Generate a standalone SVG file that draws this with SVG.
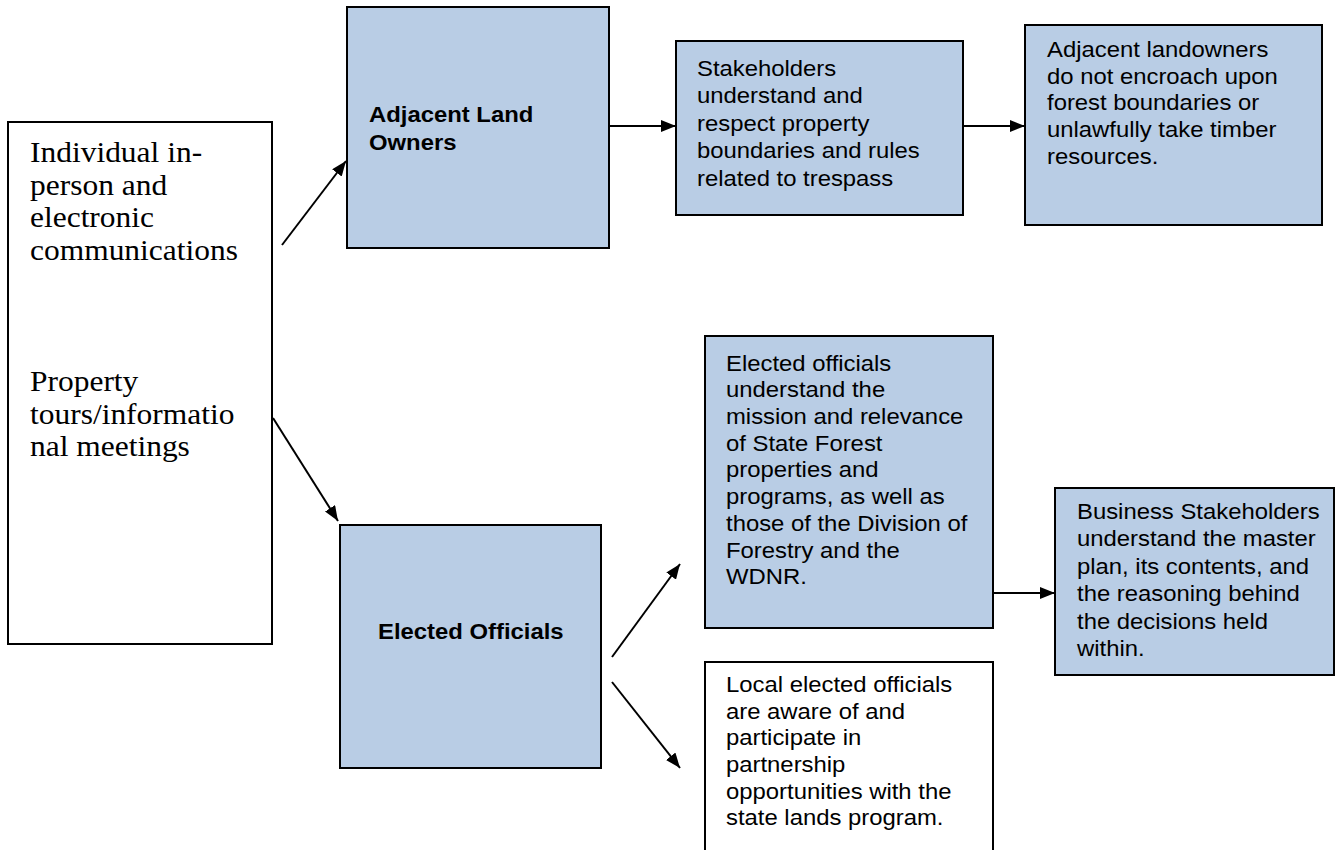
<svg xmlns="http://www.w3.org/2000/svg" width="1338" height="850" viewBox="0 0 1338 850">
  <style>
    .box { fill: #B9CDE5; stroke: #000; stroke-width: 2; }
    .plain { fill: #FFFFFF; stroke: #000; stroke-width: 2; }
    .sans { font-family: "Liberation Sans", Arial, sans-serif; font-size: 22px; fill: #000; }
    .bold { font-weight: bold; }
    .serif { font-family: "Liberation Serif", "Times New Roman", serif; font-size: 29px; fill: #000; }
    .link { stroke: #000; stroke-width: 2; fill: none; marker-end: url(#arrow); }
  </style>
  <defs>
    <marker id="arrow" markerUnits="userSpaceOnUse" markerWidth="16" markerHeight="12" refX="15" refY="6" orient="auto">
      <path d="M0,0 L15,6 L0,12 z" fill="#000"/>
    </marker>
  </defs>
  <rect width="1338" height="850" fill="#FFFFFF"/>

  <!-- Communication methods -->
  <g id="methods">
    <rect class="plain" x="8" y="122" width="264" height="522"/>
    <text class="serif" transform="translate(30,162) scale(1.085,1)">
      <tspan x="0" y="0">Individual in-</tspan>
      <tspan x="0" y="32.7">person and</tspan>
      <tspan x="0" y="65.4">electronic</tspan>
      <tspan x="0" y="98.1">communications</tspan>
      <tspan x="0" y="229">Property</tspan>
      <tspan x="0" y="261.7">tours/informatio</tspan>
      <tspan x="0" y="294.4">nal meetings</tspan>
    </text>
  </g>

  <!-- Audience: adjacent land owners -->
  <g id="adjacent-owners">
    <rect class="box" x="347" y="7" width="262" height="241"/>
    <text class="sans bold" transform="translate(369,122) scale(1.085,1)">
      <tspan x="0" y="0">Adjacent Land</tspan>
      <tspan x="0" y="28">Owners</tspan>
    </text>
  </g>

  <g id="stakeholders-respect">
    <rect class="box" x="676" y="41" width="287" height="174"/>
    <text class="sans" transform="translate(697,76) scale(1.085,1)">
      <tspan x="0" y="0">Stakeholders</tspan>
      <tspan x="0" y="27.5">understand and</tspan>
      <tspan x="0" y="55">respect property</tspan>
      <tspan x="0" y="82.5">boundaries and rules</tspan>
      <tspan x="0" y="110">related to trespass</tspan>
    </text>
  </g>

  <g id="no-encroach">
    <rect class="box" x="1025" y="25" width="297" height="200"/>
    <text class="sans" transform="translate(1047,57) scale(1.085,1)">
      <tspan x="0" y="0">Adjacent landowners</tspan>
      <tspan x="0" y="26.7">do not encroach upon</tspan>
      <tspan x="0" y="53.4">forest boundaries or</tspan>
      <tspan x="0" y="80.1">unlawfully take timber</tspan>
      <tspan x="0" y="106.8">resources.</tspan>
    </text>
  </g>

  <!-- Audience: elected officials -->
  <g id="elected-officials">
    <rect class="box" x="340" y="525" width="261" height="243"/>
    <text class="sans bold" transform="translate(378,639) scale(1.085,1)">Elected Officials</text>
  </g>

  <g id="officials-understand">
    <rect class="box" x="705" y="336" width="288" height="292"/>
    <text class="sans" transform="translate(726,370.7) scale(1.085,1)">
      <tspan x="0" y="0">Elected officials</tspan>
      <tspan x="0" y="26.7">understand the</tspan>
      <tspan x="0" y="53.4">mission and relevance</tspan>
      <tspan x="0" y="80.1">of State Forest</tspan>
      <tspan x="0" y="106.8">properties and</tspan>
      <tspan x="0" y="133.5">programs, as well as</tspan>
      <tspan x="0" y="160.2">those of the Division of</tspan>
      <tspan x="0" y="186.9">Forestry and the</tspan>
      <tspan x="0" y="213.6">WDNR.</tspan>
    </text>
  </g>

  <g id="business-stakeholders">
    <rect class="box" x="1055" y="488" width="279" height="187"/>
    <text class="sans" transform="translate(1077,519) scale(1.085,1)">
      <tspan x="0" y="0">Business Stakeholders</tspan>
      <tspan x="0" y="27.5">understand the master</tspan>
      <tspan x="0" y="55">plan, its contents, and</tspan>
      <tspan x="0" y="82.5">the reasoning behind</tspan>
      <tspan x="0" y="110">the decisions held</tspan>
      <tspan x="0" y="137.5">within.</tspan>
    </text>
  </g>

  <g id="local-partnership">
    <rect class="plain" x="705" y="662" width="288" height="200"/>
    <text class="sans" transform="translate(726,692) scale(1.085,1)">
      <tspan x="0" y="0">Local elected officials</tspan>
      <tspan x="0" y="26.7">are aware of and</tspan>
      <tspan x="0" y="53.4">participate in</tspan>
      <tspan x="0" y="80.1">partnership</tspan>
      <tspan x="0" y="106.8">opportunities with the</tspan>
      <tspan x="0" y="133.5">state lands program.</tspan>
    </text>
  </g>

  <!-- Connectors -->
  <g id="connectors">
    <line class="link" x1="282" y1="245" x2="346" y2="161"/>
    <line class="link" x1="273" y1="418" x2="338" y2="521"/>
    <line class="link" x1="609" y1="126" x2="676" y2="126"/>
    <line class="link" x1="963" y1="126" x2="1025" y2="126"/>
    <line class="link" x1="612" y1="657" x2="680" y2="564"/>
    <line class="link" x1="612" y1="682" x2="680" y2="768"/>
    <line class="link" x1="993" y1="593" x2="1055" y2="593"/>
  </g>
</svg>
